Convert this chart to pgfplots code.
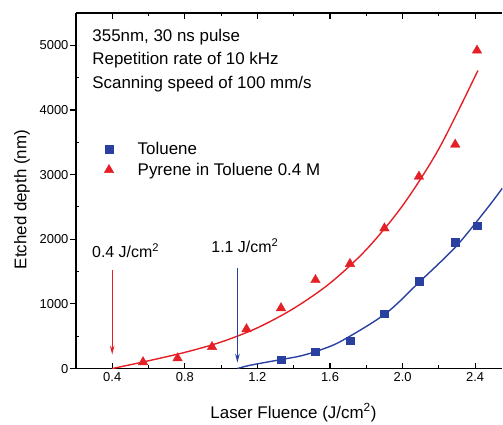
\documentclass[border=0pt]{standalone}
\usepackage{pgfplots}
\pgfplotsset{compat=1.18}
\usepackage{fontspec}
\setmainfont{Liberation Sans}
\usetikzlibrary{arrows.meta}
\definecolor{fitred}{RGB}{228,32,38}
\definecolor{fitblue}{RGB}{42,64,160}
\begin{document}
\begin{tikzpicture}
\begin{axis}[
  width=427bp, height=356bp, scale only axis,
  xmin=0.2, xmax=2.55, ymin=0, ymax=5500,
  axis x line*=box, axis y line*=left,
  axis line style={line width=1.2bp},
  xtick={0.4,0.8,1.2,1.6,2.0,2.4}, ytick={0,1000,2000,3000,4000,5000},
  minor x tick num=1, minor y tick num=1,
  tick align=inside, major tick length=6bp, minor tick length=3.5bp,
  tick style={line width=1.1bp, black},
  every major y tick/.append style={xshift=-6bp},
  xticklabel style={/pgf/number format/.cd, fixed, fixed zerofill, precision=1},
  yticklabel style={/pgf/number format/1000 sep={}, xshift=-4bp},
  /pgf/number format/assume math mode=true,
  tick label style={font=\fontsize{13}{15}\selectfont},
  xlabel={Laser Fluence (J/cm\textsuperscript{2})},
  ylabel={Etched depth (nm)},
  every axis x label/.style={at={(axis description cs:0.51,0)}, anchor=center, yshift=-44bp,
    font=\fontsize{17}{20}\selectfont},
  every axis y label/.style={at={(axis description cs:0,0.475)}, rotate=90, anchor=center, yshift=54bp,
    font=\fontsize{17}{20}\selectfont},
  legend style={at={(axis description cs:0.059,0.648)}, anchor=north west, draw=none, fill=none,
    font=\fontsize{17}{20}\selectfont, row sep=3bp,
    /tikz/every odd column/.append style={column sep=22bp}},
  legend cell align=left,
]
\addplot[only marks, mark=square*, mark size=3.8bp, fitblue] coordinates {
  (1.33,140) (1.52,262) (1.71,432) (1.90,850) (2.09,1348) (2.29,1955) (2.41,2207)};
\addlegendentry{Toluene}
\addplot[only marks, mark=triangle*, mark size=5.5bp, fitred] coordinates {
  (0.57,100) (0.76,160) (0.95,335) (1.14,610) (1.33,935) (1.52,1370)
  (1.71,1620) (1.90,2170) (2.09,2970) (2.29,3465) (2.41,4920)};
\addlegendentry{Pyrene in Toluene 0.4 M}
% fitted curves
\addplot[fitred, line width=1.4bp, smooth, forget plot] coordinates {
  (0.40,0) (0.60,120) (0.80,250) (1.00,410) (1.20,630) (1.40,930) (1.60,1320)
  (1.80,1840) (2.00,2520) (2.20,3400) (2.415,4610)};
\addplot[fitblue, line width=1.4bp, smooth, forget plot] coordinates {
  (1.09,0) (1.16,51) (1.33,139) (1.43,190) (1.525,267) (1.66,421) (1.906,849)
  (2.09,1332) (2.294,1887) (2.459,2453) (2.55,2790)};
% threshold arrows
\draw[fitred, line width=1.4bp, -{Stealth[length=9bp,width=4.5bp]}] (axis cs:0.4,1530) -- (axis cs:0.4,216);
\draw[fitblue, line width=1.4bp, -{Stealth[length=9bp,width=4.5bp]}] (axis cs:1.09,1560) -- (axis cs:1.09,90);
\node[anchor=base, font=\fontsize{16}{18}\selectfont] at (axis cs:0.474,1713) {0.4 J/cm\textsuperscript{2}};
\node[anchor=base, font=\fontsize{16}{18}\selectfont] at (axis cs:1.131,1790) {1.1 J/cm\textsuperscript{2}};
\node[anchor=base west, inner sep=0pt, font=\fontsize{17}{20}\selectfont] at (axis cs:0.29,5062) {355nm, 30 ns pulse};
\node[anchor=base west, inner sep=0pt, font=\fontsize{17}{20}\selectfont] at (axis cs:0.29,4707) {Repetition rate of 10 kHz};
\node[anchor=base west, inner sep=0pt, font=\fontsize{17}{20}\selectfont] at (axis cs:0.29,4336) {Scanning speed of 100 mm/s};
\coordinate (tl) at (rel axis cs:0,1);
\end{axis}
\path (tl) ++(-76bp,13bp) -- ++(1bp,0);
\end{tikzpicture}
\end{document}
